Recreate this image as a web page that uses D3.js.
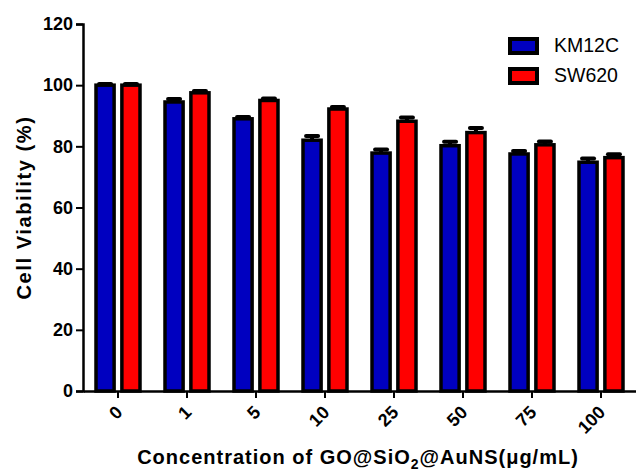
<!DOCTYPE html>
<html>
<head>
<meta charset="utf-8">
<script src="https://cdn.jsdelivr.net/npm/d3@7"></script>
<style>
    body { margin: 0; background: #fff; }
    svg text { font-family: "Liberation Sans", Arial, sans-serif; }
</style>
</head>
<body>
<div id="chart"></div>
<script>
// data
const concentrations = ["0", "1", "5", "10", "25", "50", "75", "100"];
const seriesNames = ["KM12C", "SW620"];
const km12cMean = [100, 94.5, 89, 82, 77.8, 80.2, 77.5, 74.8];
const km12cErr = [0.4, 1.0, 0.6, 1.4, 1.2, 1.3, 1.0, 1.2];
const sw620Mean = [100, 97.5, 95, 92.2, 88.2, 84.5, 80.5, 76.3];
const sw620Err = [0.4, 0.6, 0.6, 0.7, 1.2, 1.5, 1.1, 1.1];
const yTicks = [0, 20, 40, 60, 80, 100, 120];
const colors = ["#0000c0", "#ff0000"];

const width = 636, height = 472;
const margin = { top: 24, right: 0, bottom: 81, left: 83 };

const svg = d3.select("#chart")
    .append("svg")
    .attr("width", width)
    .attr("height", height);

const x = d3.scaleBand()
    .domain(concentrations)
    .range([margin.left + 0.5, width - 0.5]);

const xSub = d3.scaleBand()
    .domain(seriesNames)
    .range([-22, 22])
    .paddingInner(0.3);

const y = d3.scaleLinear()
    .domain([0, 120])
    .range([height - margin.bottom, margin.top]);

// table built from the arrays
const rows = concentrations.map((c, i) => ({
    conc: c,
    values: [
        { name: "KM12C", mean: km12cMean[i], err: km12cErr[i], color: colors[0] },
        { name: "SW620", mean: sw620Mean[i], err: sw620Err[i], color: colors[1] }
    ]
}));

const groups = svg.selectAll("g.group")
    .data(rows)
    .enter()
    .append("g")
    .attr("class", "group")
    .attr("transform", d => `translate(${x(d.conc) + x.bandwidth() / 2},0)`);

// error bars (drawn first, bar sits on top)
groups.selectAll("line.err")
    .data(d => d.values)
    .enter()
    .append("line")
    .attr("x1", d => xSub(d.name) + xSub.bandwidth() / 2)
    .attr("x2", d => xSub(d.name) + xSub.bandwidth() / 2)
    .attr("y1", d => y(d.mean))
    .attr("y2", d => y(d.mean + d.err))
    .attr("stroke", "#000")
    .attr("stroke-width", 4);

groups.selectAll("line.cap")
    .data(d => d.values)
    .enter()
    .append("line")
    .attr("x1", d => xSub(d.name) + xSub.bandwidth() / 2 - 6)
    .attr("x2", d => xSub(d.name) + xSub.bandwidth() / 2 + 6)
    .attr("y1", d => y(d.mean + d.err))
    .attr("y2", d => y(d.mean + d.err))
    .attr("stroke", "#000")
    .attr("stroke-width", 4)
    .attr("stroke-linecap", "round");

groups.selectAll("rect")
    .data(d => d.values)
    .enter()
    .append("rect")
    .attr("x", d => xSub(d.name))
    .attr("width", xSub.bandwidth())
    .attr("y", d => y(d.mean))
    .attr("height", d => y(0) - y(d.mean))
    .attr("fill", d => d.color)
    .attr("stroke", "#000")
    .attr("stroke-width", 3.5);

// axes
const yAxis = svg.append("g")
    .attr("transform", `translate(${margin.left},0)`)
    .call(d3.axisLeft(y).tickValues(yTicks).tickSize(7).tickPadding(3));

const xAxis = svg.append("g")
    .attr("transform", `translate(0,${y(0)})`)
    .call(d3.axisBottom(x).tickSize(7).tickSizeOuter(0));

[yAxis, xAxis].forEach(ax => {
    ax.select(".domain").attr("stroke", "#000").attr("stroke-width", 2.5);
    ax.selectAll(".tick line").attr("stroke", "#000").attr("stroke-width", 2);
});

yAxis.selectAll("text")
    .attr("font-size", 18)
    .attr("font-weight", "bold")
    .attr("fill", "#000");

// rotated labels, ending just below the tick
xAxis.selectAll("text")
    .attr("font-size", 18)
    .attr("font-weight", "bold")
    .attr("fill", "#000")
    .attr("text-anchor", "end")
    .attr("x", 0)
    .attr("y", 0)
    .attr("dy", "0.35em")
    .attr("transform", "translate(1,18) rotate(-45)");

// axis titles
svg.append("text")
    .attr("transform", `translate(31,${(y(0) + y(120)) / 2}) rotate(-90)`)
    .attr("text-anchor", "middle")
    .attr("font-size", 20)
    .attr("font-weight", "bold")
    .attr("letter-spacing", 1.6)
    .text("Cell Viability (%)");

const xTitle = svg.append("text")
    .attr("x", 358)
    .attr("y", 464)
    .attr("text-anchor", "middle")
    .attr("font-size", 20)
    .attr("font-weight", "bold")
    .attr("letter-spacing", 1);
xTitle.append("tspan").text("Concentration of GO@SiO");
xTitle.append("tspan").attr("font-size", 14).attr("dy", 5).text("2");
xTitle.append("tspan").attr("dy", -5).text("@AuNS(\u03bcg/mL)");

// legend
const legend = svg.selectAll("g.legend")
    .data(seriesNames)
    .enter()
    .append("g")
    .attr("class", "legend")
    .attr("transform", (d, i) => `translate(510,${39 + i * 30})`);

legend.append("rect")
    .attr("width", 27)
    .attr("height", 14)
    .attr("fill", (d, i) => colors[i])
    .attr("stroke", "#000")
    .attr("stroke-width", 4);

legend.append("text")
    .attr("x", 44)
    .attr("y", 13)
    .attr("font-size", 19.5)
    .text(d => d);
</script>
</body>
</html>
